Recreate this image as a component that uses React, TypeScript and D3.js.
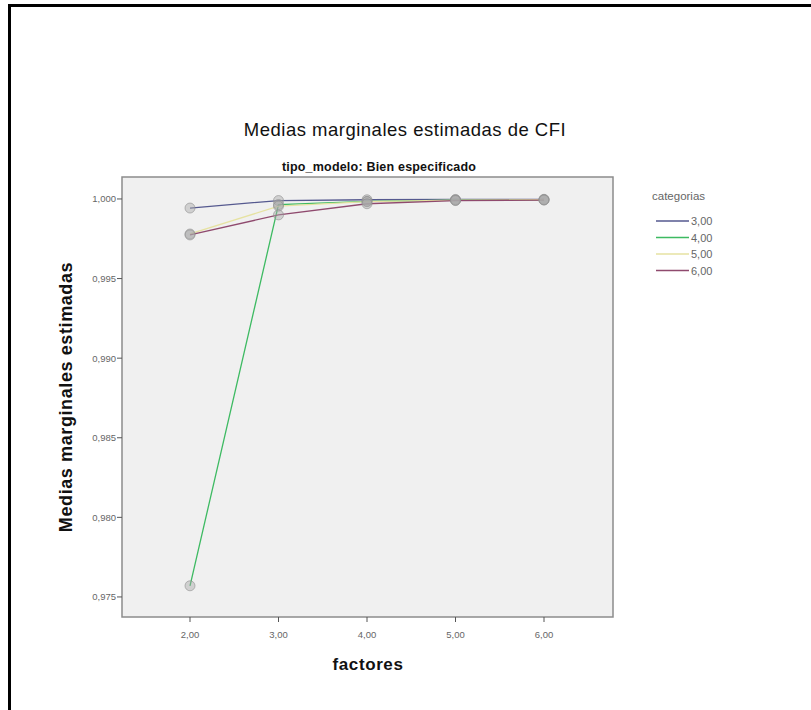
import React from 'react';
import * as d3 from 'd3';

const factores = [2, 3, 4, 5, 6];
const factorLabels = ['2,00', '3,00', '4,00', '5,00', '6,00'];
const yTicks = [0.975, 0.98, 0.985, 0.99, 0.995, 1.0];

const categorias = ['3,00', '4,00', '5,00', '6,00'];
const cat3 = [0.99943, 0.9999, 0.99995, 0.99997, 0.99998];
const cat4 = [0.9757, 0.99965, 0.99985, 0.99993, 0.99995];
const cat5 = [0.9978, 0.99955, 0.99983, 0.99993, 0.99995];
const cat6 = [0.99774, 0.999, 0.9997, 0.9999, 0.99993];
const seriesValues = [cat3, cat4, cat5, cat6];
const colors = ['#55598f', '#3dba62', '#e6e2a2', '#8f4a6e'];

const W = 811;
const H = 710;
const plot = { left: 122, top: 177, right: 613, bottom: 617 };

export default function App() {
  const x = d3
    .scaleLinear()
    .domain([2 - 68 / 88.5, 6 + 69 / 88.5])
    .range([plot.left, plot.right]);
  const y = d3.scaleLinear().domain([0.97374, 1.00138]).range([plot.bottom, plot.top]);
  const line = d3
    .line<number>()
    .x((_, i) => x(factores[i]))
    .y((d) => y(d));
  const fmt = (v: number) => v.toFixed(3).replace('.', ',');
  const font = '"Liberation Sans", Arial, sans-serif';

  return (
    <svg
      width={W}
      height={H}
      viewBox={`0 0 ${W} ${H}`}
      style={{ position: 'absolute', left: 0, top: 0, background: '#fff' }}
      fontFamily={font}
    >
      {/* outer frame */}
      <path d={`M9.5,${H} V5.5 H${W}`} fill="none" stroke="#000" strokeWidth={3} />

      <text x={405} y={136} textAnchor="middle" fontSize={18.5} letterSpacing={0.5} fill="#111">
        Medias marginales estimadas de CFI
      </text>
      <text x={379} y={171} textAnchor="middle" fontSize={12.5} letterSpacing={0.2} fontWeight="bold" fill="#111">
        tipo_modelo: Bien especificado
      </text>

      <rect
        x={plot.left}
        y={plot.top}
        width={plot.right - plot.left}
        height={plot.bottom - plot.top}
        fill="#f0f0f0"
        stroke="#8c8c8c"
        strokeWidth={1.5}
      />

      {/* y axis */}
      {yTicks.map((t) => (
        <g key={t}>
          <line x1={plot.left - 5} x2={plot.left} y1={y(t)} y2={y(t)} stroke="#555" strokeWidth={1} />
          <text x={plot.left - 6} y={y(t)} dy={3.5} textAnchor="end" fontSize={9.5} fill="#666">
            {fmt(t)}
          </text>
        </g>
      ))}
      <text
        transform={`translate(72,${(plot.top + plot.bottom) / 2}) rotate(-90)`}
        textAnchor="middle"
        fontSize={18}
        letterSpacing={0.6}
        fontWeight="bold"
        fill="#111"
      >
        Medias marginales estimadas
      </text>

      {/* x axis */}
      {factores.map((f, i) => (
        <g key={f}>
          <line x1={x(f)} x2={x(f)} y1={plot.bottom} y2={plot.bottom + 5} stroke="#555" strokeWidth={1} />
          <text x={x(f)} y={plot.bottom + 21} textAnchor="middle" fontSize={9.5} fill="#666">
            {factorLabels[i]}
          </text>
        </g>
      ))}
      <text x={368} y={670} textAnchor="middle" fontSize={17} letterSpacing={0.6} fontWeight="bold" fill="#111">
        factores
      </text>

      {/* lines */}
      {seriesValues.map((vals, s) => (
        <path key={s} d={line(vals) || undefined} fill="none" stroke={colors[s]} strokeWidth={1.3} />
      ))}
      {/* markers */}
      {seriesValues.map((vals, s) =>
        vals.map((v, i) => (
          <circle
            key={`${s}-${i}`}
            cx={x(factores[i])}
            cy={y(v)}
            r={5}
            fill="#a8a8a8"
            fillOpacity={0.45}
            stroke="#909090"
            strokeOpacity={0.6}
            strokeWidth={1}
          />
        ))
      )}

      {/* legend */}
      <text x={652} y={200} fontSize={11.5} fill="#666">
        categorias
      </text>
      {categorias.map((c, i) => (
        <g key={c} transform={`translate(0,${221 + i * 16.5})`}>
          <line x1={656} x2={689} y1={0} y2={0} stroke={colors[i]} strokeWidth={1.3} />
          <text x={691} y={4} fontSize={11} fill="#666">
            {c}
          </text>
        </g>
      ))}
    </svg>
  );
}
